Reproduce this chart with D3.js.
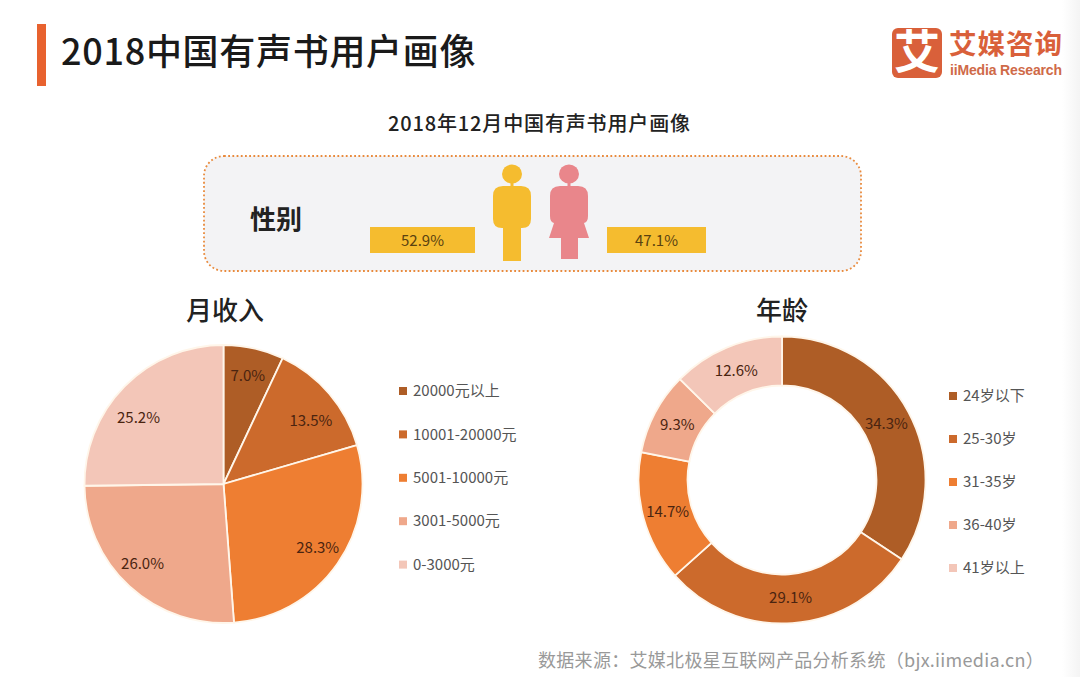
<!DOCTYPE html>
<html>
<head>
<meta charset="utf-8">
<script src="https://cdn.jsdelivr.net/npm/d3@7"></script>
<style>
html, body { margin: 0; padding: 0; background: #fff; }
svg { display: block; }
text { font-family: "Noto Sans CJK SC", "Noto Sans", sans-serif; }
</style>
</head>
<body>
<svg class="chart"></svg>
<script>
var incomeLabels = ["20000元以上", "10001-20000元", "5001-10000元", "3001-5000元", "0-3000元"];
var incomeValues = [7.0, 13.5, 28.3, 26.0, 25.2];
var ageLabels = ["24岁以下", "25-30岁", "31-35岁", "36-40岁", "41岁以上"];
var ageValues = [34.3, 29.1, 14.7, 9.3, 12.6];
var genderValues = [52.9, 47.1];
var sliceColors = ["#AE5D26", "#CC6A2C", "#EE7E32", "#EFA88B", "#F3C6B8"];

var width = 1080;
var height = 677;
var svg = d3.select(".chart").attr("width", width).attr("height", height);

// faint shadow on the right edge of the screenshot
var edge = svg.append("defs").append("linearGradient").attr("id", "edge");
edge.append("stop").attr("offset", "0").attr("stop-color", "#fff");
edge.append("stop").attr("offset", "1").attr("stop-color", "#f4f4f4");
svg.append("rect").attr("x", 1062).attr("y", 0).attr("width", 18).attr("height", height).attr("fill", "url(#edge)");

// header
svg.append("rect").attr("x", 37).attr("y", 24).attr("width", 9).attr("height", 62).attr("fill", "#E8622F");
svg.append("text").attr("x", 61).attr("y", 65)
  .attr("font-size", 36).attr("letter-spacing", 0.7).attr("fill", "#1a1a1a").attr("font-weight", 500)
  .text("2018中国有声书用户画像");
svg.append("text").attr("x", 388).attr("y", 131)
  .attr("font-size", 20).attr("letter-spacing", 0.85).attr("fill", "#222").attr("font-weight", 500)
  .text("2018年12月中国有声书用户画像");

// logo
svg.append("rect").attr("x", 892).attr("y", 28).attr("width", 50).attr("height", 50).attr("rx", 6).attr("fill", "#D9603A");
svg.append("text").attr("x", 917).attr("y", 68).attr("text-anchor", "middle")
  .attr("font-size", 46).attr("font-weight", 700).attr("fill", "#fff").text("艾");
svg.append("text").attr("x", 949).attr("y", 54)
  .attr("font-size", 27.5).attr("letter-spacing", 1).attr("font-weight", 700).attr("fill", "#D9603A").text("艾媒咨询");
svg.append("text").attr("x", 950).attr("y", 75)
  .style("font-family", "'Liberation Sans', sans-serif")
  .attr("font-size", 14).attr("font-weight", 700).attr("fill", "#CF6A48").attr("textLength", 112).text("iiMedia Research");

// gender panel
svg.append("rect").attr("x", 204).attr("y", 156).attr("width", 657).attr("height", 115).attr("rx", 20)
  .attr("fill", "#F3F3F5").attr("stroke", "#E98A3C").attr("stroke-width", 1.8)
  .attr("stroke-dasharray", "1.8 2.4");
svg.append("text").attr("x", 250).attr("y", 229).attr("font-size", 26).attr("font-weight", 700).attr("fill", "#222").text("性别");

var tagX = [370, 607];
var tagW = [105, 99];
genderValues.forEach(function(v, i) {
  svg.append("rect").attr("x", tagX[i]).attr("y", 227).attr("width", tagW[i]).attr("height", 26).attr("fill", "#F5BC2F");
  svg.append("text").attr("x", tagX[i] + tagW[i] / 2).attr("y", 245.5).attr("text-anchor", "middle")
    .attr("font-size", 15).attr("fill", "#5a4210").text(v.toFixed(1) + "%");
});

// male figure
var man = svg.append("g").attr("fill", "#F5BC2F");
man.append("ellipse").attr("cx", 512).attr("cy", 174).attr("rx", 10).attr("ry", 9.5);
man.append("rect").attr("x", 510.5).attr("y", 182).attr("width", 3).attr("height", 8);
man.append("path").attr("d", "M503 186H521Q531 186 531 196V219Q531 228 522 228H521V261H503V228H502Q493 228 493 219V196Q493 186 503 186Z");

// female figure
var woman = svg.append("g").attr("fill", "#E9868B");
woman.append("ellipse").attr("cx", 569).attr("cy", 174).attr("rx", 10).attr("ry", 9.5);
woman.append("rect").attr("x", 567.5).attr("y", 182).attr("width", 3).attr("height", 8);
woman.append("path").attr("d", "M560 186H578Q588 186 588 196V216Q588 222 584 223L589 238H578V259H561V238H549L554 223Q550 222 550 216V196Q550 186 560 186Z");

// pies, labels sit near the slice centroid with a small nudge
function drawPie(cx, cy, outer, inner, values, labelRadius, nudge) {
  var pie = d3.pie().sort(null).value(function(d) { return d; });
  var arc = d3.arc().innerRadius(inner).outerRadius(outer);
  var labelArc = d3.arc().innerRadius(labelRadius).outerRadius(labelRadius);
  var g = svg.append("g").attr("transform", "translate(" + cx + "," + cy + ")");
  var arcs = pie(values);
  g.selectAll("path").data(arcs).enter().append("path")
    .attr("d", arc)
    .attr("fill", function(d, i) { return sliceColors[i]; })
    .attr("stroke", "#FFF6EA").attr("stroke-width", 1.8);
  g.selectAll("text").data(arcs).enter().append("text")
    .attr("transform", function(d, i) {
      var p = labelArc.centroid(d);
      return "translate(" + (p[0] + nudge[i][0]) + "," + (p[1] + nudge[i][1]) + ")";
    })
    .attr("text-anchor", "middle").attr("dy", "0.35em")
    .attr("font-size", 15).attr("fill", "#4a2410")
    .text(function(d) { return d.value.toFixed(1) + "%"; });
}

function drawLegend(x, y, step, labels) {
  var yScale = d3.scalePoint().domain(labels).range([y, y + step * (labels.length - 1)]);
  var g = svg.append("g");
  g.selectAll("rect").data(labels).enter().append("rect")
    .attr("x", x).attr("y", function(d) { return yScale(d) - 4; })
    .attr("width", 8).attr("height", 8)
    .attr("fill", function(d, i) { return sliceColors[i]; });
  g.selectAll("text").data(labels).enter().append("text")
    .attr("x", x + 14).attr("y", function(d) { return yScale(d); })
    .attr("dy", "0.35em").attr("font-size", 15).attr("fill", "#555")
    .text(function(d) { return d; });
}

svg.append("text").attr("x", 225).attr("y", 320).attr("text-anchor", "middle")
  .attr("font-size", 26).attr("font-weight", 500).attr("fill", "#222").text("月收入");
drawPie(223.5, 484, 139, 0, incomeValues, 111, [[0, 0], [3, 9], [3, 0], [-6, -2], [-6, 12]]);
drawLegend(399, 391, 43.4, incomeLabels);

svg.append("text").attr("x", 782).attr("y", 320).attr("text-anchor", "middle")
  .attr("font-size", 26).attr("font-weight", 500).attr("fill", "#222").text("年龄");
drawPie(782, 480, 143.5, 94.5, ageValues, 118.5, [[0, 0], [0, 0], [0, 0], [0, 0], [0, 0]]);
drawLegend(949, 396, 43, ageLabels);

// source
svg.append("text").attr("x", 538).attr("y", 667)
  .attr("font-size", 18).attr("letter-spacing", 0.3).attr("fill", "#999")
  .text("数据来源：艾媒北极星互联网产品分析系统（bjx.iimedia.cn）");
</script>
</body>
</html>
